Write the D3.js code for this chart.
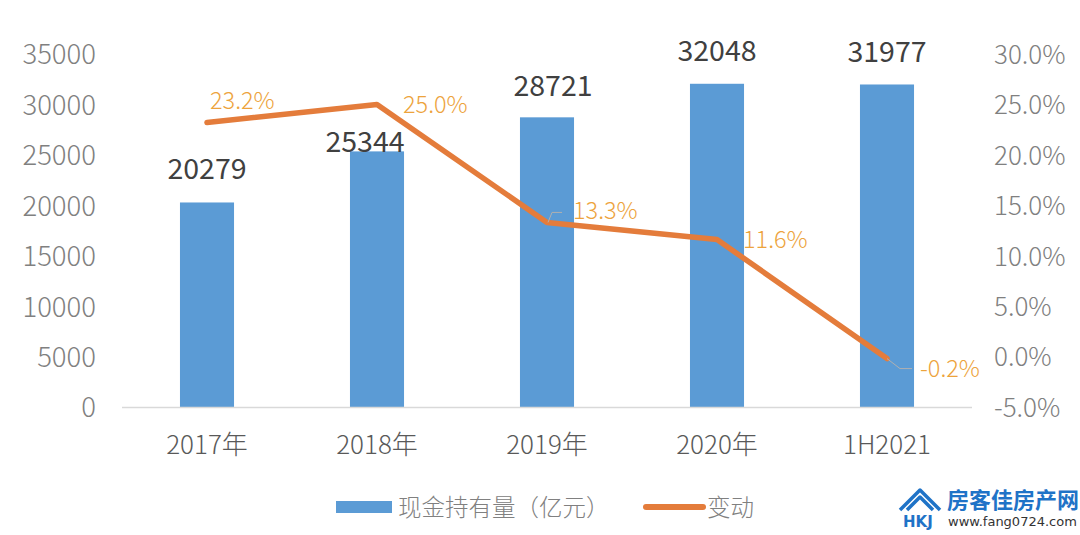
<!DOCTYPE html>
<html><head><meta charset="utf-8">
<script src="https://cdn.jsdelivr.net/npm/d3@7/dist/d3.min.js"></script>
<style>
html,body{margin:0;padding:0;background:#fff;}
svg{display:block;font-family:"Noto Sans CJK SC","Noto Sans",sans-serif;}
</style></head>
<body><svg id="c" width="1080" height="535"></svg>
<script>
const categories = ["2017年","2018年","2019年","2020年","1H2021"];
const cash = [20279,25344,28721,32048,31977];
const change = [23.2,25.0,13.3,11.6,-0.2];
const leftTicks = [0,5000,10000,15000,20000,25000,30000,35000];
const rightTicks = [-5,0,5,10,15,20,25,30];
const seriesNames = ["现金持有量（亿元）","变动"];

const svg = d3.select("#c");
const x = d3.scaleBand().domain(categories).range([122,972]).paddingInner(0.682).paddingOuter(0.341);
const yL = d3.scaleLinear().domain([0,35000]).range([407,54]);
const yR = d3.scaleLinear().domain([-5,30]).range([407,54]);
const blue="#5B9BD5", orange="#E47C3B", pctColor="#EDA33C";
const FF="'Noto Sans CJK SC',sans-serif";

// bars
svg.selectAll("rect.bar").data(cash).join("rect").attr("class","bar")
  .attr("x",(d,i)=>x(categories[i])).attr("width",x.bandwidth())
  .attr("y",d=>yL(d)).attr("height",d=>yL(0)-yL(d)).attr("fill",blue);

// x axis line
svg.append("line").attr("x1",122).attr("x2",972).attr("y1",407.5).attr("y2",407.5)
  .attr("stroke","#d9d9d9").attr("stroke-width",1.5);

// left axis
const gl = svg.append("g").attr("transform","translate(96,0)")
  .call(d3.axisLeft(yL).tickValues(leftTicks).tickSize(0).tickPadding(0).tickFormat(d3.format("d")));
gl.select(".domain").remove();
gl.selectAll("text").attr("font-size",27.5).attr("fill","#808080").attr("font-family",FF).attr("font-weight",300).attr("dy","0.36em");

// right axis
const gr = svg.append("g").attr("transform","translate(994,0)")
  .call(d3.axisRight(yR).tickValues(rightTicks).tickSize(0).tickPadding(0).tickFormat(d=>d.toFixed(1)+"%"));
gr.select(".domain").remove();
gr.selectAll("text").attr("font-size",26).attr("fill","#808080").attr("font-family",FF).attr("font-weight",300).attr("dy","0.36em");

// bottom axis labels
const gb = svg.append("g").attr("transform","translate(0,407)")
  .call(d3.axisBottom(x).tickSize(0).tickPadding(29));
gb.select(".domain").remove();
gb.selectAll("text").attr("font-size",26).attr("fill","#595959").attr("font-family",FF).attr("font-weight",300);

// line
const cx = i => x(categories[i]) + x.bandwidth()/2;
const line = d3.line().x((d,i)=>cx(i)).y(d=>yR(d));
svg.append("path").datum(change).attr("d",line).attr("fill","none")
  .attr("stroke",orange).attr("stroke-width",5.5).attr("stroke-linejoin","round").attr("stroke-linecap","round");

// bar value labels
const barLabelDx=[0,-12,6,0,0], barLabelDy=[-23,1,-21,-23,-22];
svg.selectAll("text.bv").data(cash).join("text").attr("class","bv")
  .attr("x",(d,i)=>cx(i)+barLabelDx[i]).attr("y",(d,i)=>yL(d)+barLabelDy[i])
  .attr("text-anchor","middle").attr("font-size",28.5).attr("fill","#404040")
  .text(d=>d);

// pct labels
const pDx=[3,26,26,26,33], pDy=[-14,9,-3,8,18];
svg.selectAll("text.pv").data(change).join("text").attr("class","pv")
  .attr("x",(d,i)=>cx(i)+pDx[i]).attr("y",(d,i)=>yR(d)+pDy[i])
  .attr("font-size",23.5).attr("fill",pctColor).attr("font-weight",300)
  .text(d=>d.toFixed(1)+"%");

// leader lines
const ld = [[2,[[1,0],[5,-10],[15,-10]]],[4,[[0,0],[13,10],[25,10]]]];
ld.forEach(([i,pts])=>{
  svg.append("path").attr("d",d3.line()(pts.map(p=>[cx(i)+p[0],yR(change[i])+p[1]])))
   .attr("fill","none").attr("stroke","#b0b0b0").attr("stroke-width",1);
});

// legend
svg.append("rect").attr("x",336).attr("y",501).attr("width",56).attr("height",12).attr("fill",blue);
svg.append("text").attr("x",398).attr("y",516).attr("font-size",23.5).attr("fill","#808080").attr("font-weight",300).text(seriesNames[0]);
svg.append("line").attr("x1",646).attr("x2",703).attr("y1",507).attr("y2",507).attr("stroke",orange).attr("stroke-width",6).attr("stroke-linecap","round");
svg.append("text").attr("x",707).attr("y",516).attr("font-size",23.5).attr("fill","#808080").attr("font-weight",300).text(seriesNames[1]);

// watermark
const wm = svg.append("g");
wm.append("path").attr("d","M900,510 L920,490 L940,510 M907,510 L920,497 L933,510").attr("fill","none").attr("stroke","#1f73c7").attr("stroke-width",3.5).attr("stroke-linejoin","round");
wm.append("text").attr("x",903).attr("y",527).attr("font-size",15).attr("font-weight",700).attr("fill","#1f73c7").attr("font-family","'DejaVu Sans',sans-serif").text("HKJ");
wm.append("text").attr("x",947).attr("y",508).attr("font-size",22).attr("font-weight",700).attr("fill","#1f73c7").text("房客佳房产网");
wm.append("text").attr("x",948).attr("y",526).attr("font-size",13).attr("fill","#333").attr("font-family","'DejaVu Sans',sans-serif").text("www.fang0724.com");
</script></body></html>
